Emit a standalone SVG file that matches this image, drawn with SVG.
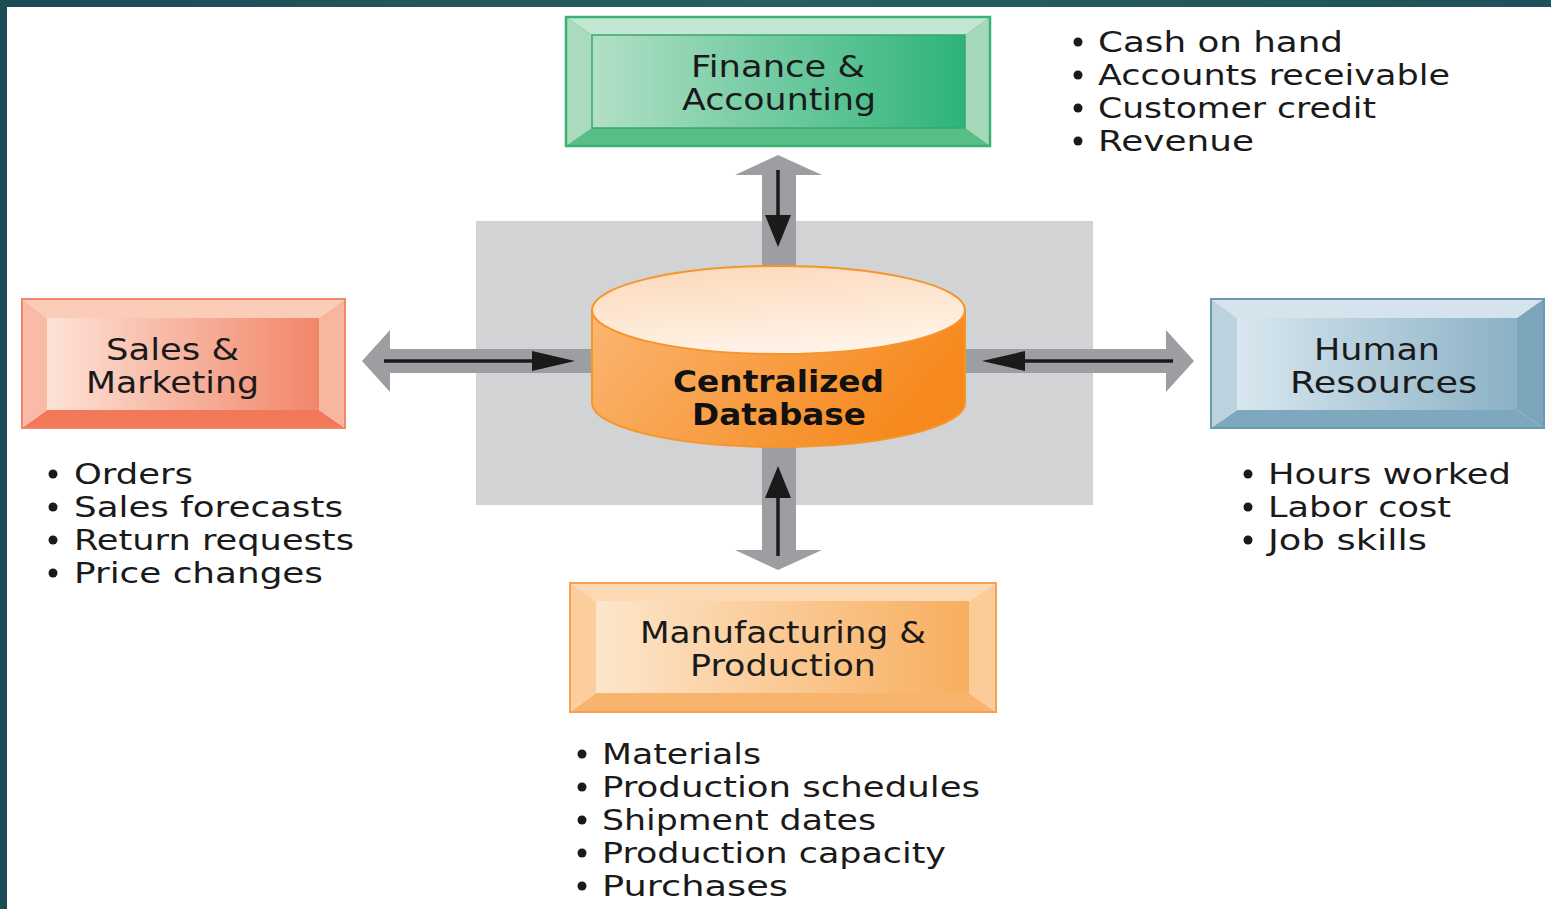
<svg xmlns="http://www.w3.org/2000/svg" width="1551" height="909" viewBox="0 0 1551 909">
<style>
.lbl{font-family:"DejaVu Sans","Liberation Sans",sans-serif;font-size:30px;fill:#1a1a1a;text-anchor:start}
.db{font-family:"DejaVu Sans","Liberation Sans",sans-serif;font-size:30px;font-weight:bold;fill:#111}
.li{font-family:"DejaVu Sans","Liberation Sans",sans-serif;font-size:29px;fill:#1a1a1a}
.bu{fill:#1a1a1a}
.gray{fill:#9c9ea1}
.blk{stroke:#1a1a1a;stroke-width:3.5;fill:none}
</style>
<defs>
<linearGradient id="frame" x1="0" y1="0" x2="1" y2="0"><stop offset="0" stop-color="#1b4a55"/><stop offset="0.5" stop-color="#285e62"/><stop offset="1" stop-color="#1e5159"/></linearGradient>
<linearGradient id="gFin" x1="0" y1="0" x2="1" y2="0"><stop offset="0" stop-color="#b2e0c6"/><stop offset="1" stop-color="#2db47a"/></linearGradient>
<linearGradient id="gSal" x1="0" y1="0" x2="1" y2="0"><stop offset="0" stop-color="#fde2d6"/><stop offset="1" stop-color="#f2866a"/></linearGradient>
<linearGradient id="gHR" x1="0" y1="0" x2="1" y2="0"><stop offset="0" stop-color="#d8e7ef"/><stop offset="1" stop-color="#8bb1c5"/></linearGradient>
<linearGradient id="gMan" x1="0" y1="0" x2="1" y2="0"><stop offset="0" stop-color="#fde6cc"/><stop offset="1" stop-color="#f8ae5e"/></linearGradient>
<linearGradient id="gCylBody" x1="0" y1="0" x2="1" y2="0.3"><stop offset="0" stop-color="#fab672"/><stop offset="1" stop-color="#f6891d"/></linearGradient>
<linearGradient id="gCylTop" x1="0" y1="0" x2="0.3" y2="1"><stop offset="0" stop-color="#fcd8b8"/><stop offset="1" stop-color="#fff2e6"/></linearGradient>
<marker id="ahH" viewBox="0 0 43 20" refX="33" refY="10" markerWidth="43" markerHeight="20" markerUnits="userSpaceOnUse" orient="auto"><path d="M0,0 L43,10 L0,20 Z" fill="#1a1a1a"/></marker>
<marker id="ahV" viewBox="0 0 32 26" refX="22" refY="13" markerWidth="32" markerHeight="26" markerUnits="userSpaceOnUse" orient="auto"><path d="M0,0 L32,13 L0,26 Z" fill="#1a1a1a"/></marker>
</defs>

<rect x="0" y="0" width="1551" height="909" fill="#ffffff"/>
<rect x="0" y="0" width="1551" height="7" fill="url(#frame)"/>
<rect x="0" y="0" width="7" height="909" fill="#1c4c56"/>

<rect x="476" y="221" width="617" height="284" fill="#d1d3d4"/>

<g id="connectors">
  <polygon class="gray" points="778,155 822,175 796,175 796,268 762,268 762,175 735,175"/>
  <line class="blk" x1="778" y1="170" x2="778" y2="237" marker-end="url(#ahV)"/>
  <polygon class="gray" points="778,570 822,550 796,550 796,445 762,445 762,550 735,550"/>
  <line class="blk" x1="778" y1="556" x2="778" y2="476" marker-end="url(#ahV)"/>
  <polygon class="gray" points="362,361 390,330 390,349 594,349 594,373 390,373 390,392"/>
  <line class="blk" x1="384" y1="361" x2="565" y2="361" marker-end="url(#ahH)"/>
  <polygon class="gray" points="1194,361 1166,330 1166,349 963,349 963,373 1166,373 1166,392"/>
  <line class="blk" x1="1173" y1="361" x2="992" y2="361" marker-end="url(#ahH)"/>
</g>

<g id="db">
  <path d="M592,310 L592,403 A186.5,44 0 0 0 965,403 L965,310 Z" fill="url(#gCylBody)" stroke="#f5952a" stroke-width="2"/>
  <ellipse cx="778.5" cy="310" rx="186.5" ry="44" fill="url(#gCylTop)" stroke="#f5952a" stroke-width="2"/>
  <text class="db" x="673" y="392" textLength="211" lengthAdjust="spacingAndGlyphs">Centralized</text>
  <text class="db" x="692" y="425" textLength="174" lengthAdjust="spacingAndGlyphs">Database</text>
</g>

<g id="finance">
  <rect x="566" y="17" width="424" height="129" fill="#3bb273"/>
  <polygon points="566,17 990,17 965,35 592,35" fill="#c3e7d2"/>
  <polygon points="566,146 990,146 965,128 592,128" fill="#58be86"/>
  <polygon points="566,17 592,35 592,128 566,146" fill="#aadbbe"/>
  <polygon points="990,17 965,35 965,128 990,146" fill="#a6d9ba"/>
  <rect x="592" y="35" width="373" height="93" fill="url(#gFin)" stroke="#38a86c" stroke-width="1.5"/>
  <rect x="566" y="17" width="424" height="129" fill="none" stroke="#3bb273" stroke-width="2.5"/>
  <text class="lbl" x="691" y="77" textLength="174" lengthAdjust="spacingAndGlyphs">Finance &amp;</text>
  <text class="lbl" x="682" y="110" textLength="194" lengthAdjust="spacingAndGlyphs">Accounting</text>
</g>

<g id="sales">
  <polygon points="22,299 345,299 319,318 47,318" fill="#fbcdb9"/>
  <polygon points="22,428 345,428 319,410 47,410" fill="#f2785a"/>
  <polygon points="22,299 47,318 47,410 22,428" fill="#f9bba5"/>
  <polygon points="345,299 319,318 319,410 345,428" fill="#f8b69f"/>
  <rect x="47" y="318" width="272" height="92" fill="url(#gSal)"/>
  <rect x="22" y="299" width="323" height="129" fill="none" stroke="#f0876a" stroke-width="2"/>
  <text class="lbl" x="106" y="360" textLength="133" lengthAdjust="spacingAndGlyphs">Sales &amp;</text>
  <text class="lbl" x="86" y="393" textLength="173" lengthAdjust="spacingAndGlyphs">Marketing</text>
</g>

<g id="hr">
  <polygon points="1211,299 1544,299 1517,318 1237,318" fill="#d5e4ec"/>
  <polygon points="1211,428 1544,428 1517,410 1237,410" fill="#7da8be"/>
  <polygon points="1211,299 1237,318 1237,410 1211,428" fill="#bcd2df"/>
  <polygon points="1544,299 1517,318 1517,410 1544,428" fill="#7aa5bb"/>
  <rect x="1237" y="318" width="280" height="92" fill="url(#gHR)"/>
  <rect x="1211" y="299" width="333" height="129" fill="none" stroke="#6a9ab3" stroke-width="2"/>
  <text class="lbl" x="1314" y="360" textLength="126" lengthAdjust="spacingAndGlyphs">Human</text>
  <text class="lbl" x="1290" y="393" textLength="187" lengthAdjust="spacingAndGlyphs">Resources</text>
</g>

<g id="manufacturing">
  <polygon points="570,583 996,583 969,601 596,601" fill="#fdd9b4"/>
  <polygon points="570,712 996,712 969,693 596,693" fill="#f8b36c"/>
  <polygon points="570,583 596,601 596,693 570,712" fill="#fccd9d"/>
  <polygon points="996,583 969,601 969,693 996,712" fill="#fbcb98"/>
  <rect x="596" y="601" width="373" height="92" fill="url(#gMan)"/>
  <rect x="570" y="583" width="426" height="129" fill="none" stroke="#f5a052" stroke-width="2"/>
  <text class="lbl" x="640" y="643" textLength="286" lengthAdjust="spacingAndGlyphs">Manufacturing &amp;</text>
  <text class="lbl" x="690" y="676" textLength="186" lengthAdjust="spacingAndGlyphs">Production</text>
</g>

<g id="finance-list">
  <circle class="bu" cx="1078" cy="42" r="4.5"/><text class="li" x="1098" y="52" textLength="245" lengthAdjust="spacingAndGlyphs">Cash on hand</text>
  <circle class="bu" cx="1078" cy="75" r="4.5"/><text class="li" x="1098" y="85" textLength="352" lengthAdjust="spacingAndGlyphs">Accounts receivable</text>
  <circle class="bu" cx="1078" cy="108" r="4.5"/><text class="li" x="1098" y="118" textLength="278" lengthAdjust="spacingAndGlyphs">Customer credit</text>
  <circle class="bu" cx="1078" cy="141" r="4.5"/><text class="li" x="1098" y="151" textLength="156" lengthAdjust="spacingAndGlyphs">Revenue</text>
</g>

<g id="sales-list">
  <circle class="bu" cx="53" cy="474" r="4.5"/><text class="li" x="74" y="484" textLength="119" lengthAdjust="spacingAndGlyphs">Orders</text>
  <circle class="bu" cx="53" cy="507" r="4.5"/><text class="li" x="74" y="517" textLength="269" lengthAdjust="spacingAndGlyphs">Sales forecasts</text>
  <circle class="bu" cx="53" cy="540" r="4.5"/><text class="li" x="74" y="550" textLength="280" lengthAdjust="spacingAndGlyphs">Return requests</text>
  <circle class="bu" cx="53" cy="573" r="4.5"/><text class="li" x="74" y="583" textLength="249" lengthAdjust="spacingAndGlyphs">Price changes</text>
</g>

<g id="hr-list">
  <circle class="bu" cx="1248" cy="474" r="4.5"/><text class="li" x="1268" y="484" textLength="243" lengthAdjust="spacingAndGlyphs">Hours worked</text>
  <circle class="bu" cx="1248" cy="507" r="4.5"/><text class="li" x="1268" y="517" textLength="183" lengthAdjust="spacingAndGlyphs">Labor cost</text>
  <circle class="bu" cx="1248" cy="540" r="4.5"/><text class="li" x="1268" y="550" textLength="159" lengthAdjust="spacingAndGlyphs">Job skills</text>
</g>

<g id="manufacturing-list">
  <circle class="bu" cx="582" cy="754" r="4.5"/><text class="li" x="602" y="764" textLength="159" lengthAdjust="spacingAndGlyphs">Materials</text>
  <circle class="bu" cx="582" cy="787" r="4.5"/><text class="li" x="602" y="797" textLength="378" lengthAdjust="spacingAndGlyphs">Production schedules</text>
  <circle class="bu" cx="582" cy="820" r="4.5"/><text class="li" x="602" y="830" textLength="274" lengthAdjust="spacingAndGlyphs">Shipment dates</text>
  <circle class="bu" cx="582" cy="853" r="4.5"/><text class="li" x="602" y="863" textLength="344" lengthAdjust="spacingAndGlyphs">Production capacity</text>
  <circle class="bu" cx="582" cy="886" r="4.5"/><text class="li" x="602" y="896" textLength="186" lengthAdjust="spacingAndGlyphs">Purchases</text>
</g>
</svg>
